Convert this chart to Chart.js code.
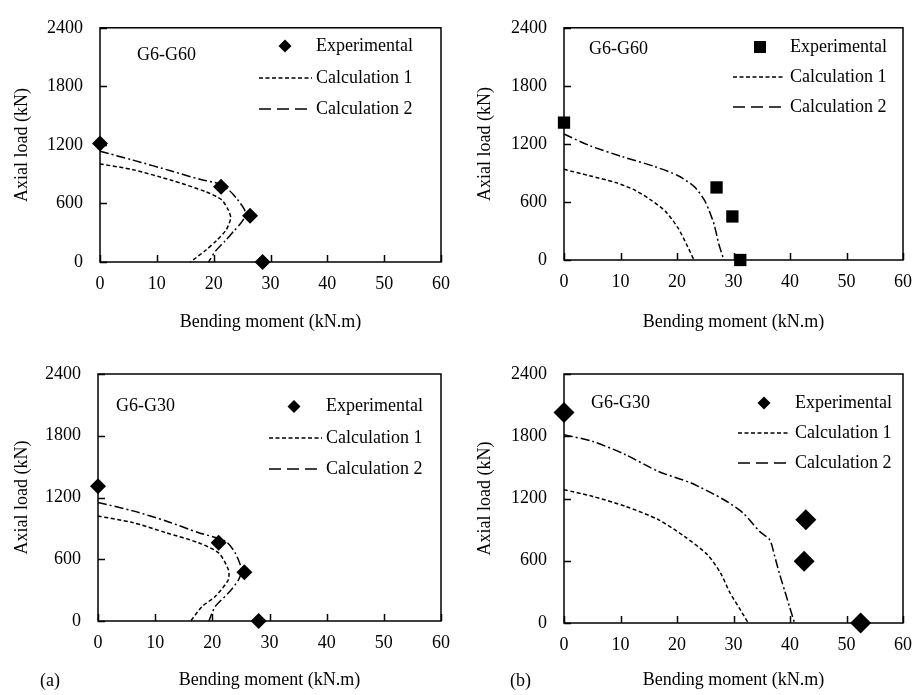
<!DOCTYPE html>
<html><head><meta charset="utf-8">
<script src="https://cdn.jsdelivr.net/npm/chart.js@4.4.1/dist/chart.umd.min.js"></script>
<style>
html,body{margin:0;padding:0;background:#fff;width:923px;height:695px;overflow:hidden}
.p{position:absolute}
canvas{display:block}
</style></head><body>
<div class="p" style="left:0;top:0"><canvas id="c1" width="461" height="340"></canvas></div>
<div class="p" style="left:461px;top:0"><canvas id="c2" width="462" height="340"></canvas></div>
<div class="p" style="left:0;top:340px"><canvas id="c3" width="461" height="355"></canvas></div>
<div class="p" style="left:461px;top:340px"><canvas id="c4" width="462" height="355"></canvas></div>
<script>
// ---------- data ----------
const momentTicks = [0, 10, 20, 30, 40, 50, 60];
const loadTicks = [0, 600, 1200, 1800, 2400];
const seriesNames = ['Experimental', 'Calculation 1', 'Calculation 2'];
const xTitle = 'Bending moment (kN.m)';
const yTitle = 'Axial load (kN)';
const panelTags = ['G6-G60', 'G6-G60', 'G6-G30', 'G6-G30'];
const subTags = ['', '', '(a)', '(b)'];

// top-left  (a) G6-G60
const aG60ExpM = [0, 21.3, 26.4, 28.6];
const aG60ExpP = [1215, 770, 475, 0];
const aG60C1M = [0, 5.8, 12.7, 18.6, 21.4, 22.6, 23.0, 22.2, 20.5, 18.6, 15.9];
const aG60C1P = [1005, 946, 835, 720, 637, 530, 450, 330, 220, 120, 0];
const aG60C2M = [0, 5.8, 12.7, 17.4, 21.0, 22.8, 24.2, 25.4, 25.6, 24.8, 23.6, 22.0, 20.3, 19.1];
const aG60C2P = [1135, 1044, 930, 850, 800, 730, 640, 540, 480, 400, 320, 215, 110, 0];

// top-right (b) G6-G60
const bG60ExpM = [0, 27.0, 29.8, 31.2];
const bG60ExpP = [1420, 750, 450, 0];
const bG60C1M = [0, 4.5, 9.2, 12.6, 15.5, 18.0, 20.2, 21.7, 23.0];
const bG60C1P = [937, 871, 800, 720, 615, 500, 329, 160, 0];
const bG60C2M = [0, 4.5, 10.3, 16.1, 20.2, 23.1, 24.8, 25.7, 26.6, 27.4, 28.3];
const bG60C2P = [1302, 1183, 1068, 965, 871, 756, 624, 510, 362, 165, 0];

// bottom-left (a) G6-G30
const aG30ExpM = [0, 21.1, 25.6, 28.1];
const aG30ExpP = [1310, 760, 473, 0];
const aG30C1M = [0, 6.1, 11.9, 17.6, 21.1, 22.8, 22.8, 20.5, 18.2, 16.2];
const aG30C1P = [1020, 956, 858, 760, 662, 499, 401, 238, 140, 0];
const aG30C2M = [0, 6.1, 11.9, 17.6, 22.3, 24.0, 25.1, 24.6, 22.8, 20.5, 19.4];
const aG30C2P = [1152, 1070, 972, 858, 776, 662, 499, 401, 271, 140, 0];

// bottom-right (b) G6-G30
const bG30ExpM = [0, 42.8, 42.5, 52.5];
const bG30ExpP = [2030, 996, 594, 0];
const bG30C1M = [0, 5.1, 10.9, 16.7, 21.3, 25.4, 27.7, 29.4, 31.2, 32.6];
const bG30C1P = [1285, 1220, 1124, 996, 835, 658, 482, 289, 128, 0];
const bG30C2M = [0, 5.1, 10.9, 16.7, 22.5, 28.3, 31.7, 34.6, 36.4, 37.3, 38.1, 39.0, 39.9, 40.8];
const bG30C2P = [1815, 1750, 1622, 1461, 1349, 1188, 1060, 883, 803, 642, 482, 321, 160, 0];

// ---------- styling / layout ----------
const FONT = "'Liberation Serif', 'Times New Roman', serif";
const FS = 18;
const INK = '#000';
const zip = (xs, ys) => xs.map((v, i) => ({x: v, y: ys[i]}));

const panels = [
  {id: 'c1', w: 461, h: 340, area: {l: 100, r: 445, t: 16, b: 262}, marker: 'rectRot', mr: 8, lr: 6.5,
   lg: {mx: 285, tx: 316, lx0: 259, lx1: 312, rows: [46, 78, 109]}, tag: {x: 137, y: 55}, sub: null,
   xpb: 7.2, ypt: 11.2,
   exp: [aG60ExpM, aG60ExpP], c1: [aG60C1M, aG60C1P], c2: [aG60C2M, aG60C2P]},
  {id: 'c2', w: 462, h: 340, area: {l: 103, r: 448, t: 16, b: 260}, marker: 'rect', mr: 8.7, lr: 8.5,
   lg: {mx: 299, tx: 329, lx0: 272, lx1: 324, rows: [47, 77, 107]}, tag: {x: 128, y: 49}, sub: null,
   xpb: 7.2, ypt: 13.2,
   exp: [bG60ExpM, bG60ExpP], c1: [bG60C1M, bG60C1P], c2: [bG60C2M, bG60C2P]},
  {id: 'c3', w: 461, h: 355, area: {l: 98, r: 445, t: 34, b: 281}, marker: 'rectRot', mr: 8, lr: 6.5,
   lg: {mx: 294, tx: 326, lx0: 269, lx1: 322, rows: [66.5, 98, 129]}, tag: {x: 116, y: 66}, sub: {x: 40, y: 341},
   xpb: 4.2, ypt: 11.2,
   exp: [aG30ExpM, aG30ExpP], c1: [aG30C1M, aG30C1P], c2: [aG30C2M, aG30C2P]},
  {id: 'c4', w: 462, h: 355, area: {l: 103, r: 448, t: 34, b: 283}, marker: 'rectRot', mr: 10.5, lr: 6.5,
   lg: {mx: 303, tx: 334, lx0: 277, lx1: 329, rows: [63, 93, 123]}, tag: {x: 130, y: 63}, sub: {x: 49, y: 341},
   xpb: 4.2, ypt: 13.2,
   exp: [bG30ExpM, bG30ExpP], c1: [bG30C1M, bG30C1P], c2: [bG30C2M, bG30C2P]}
];

const CALC1_DASH = [4, 2.5];
const CALC2_DASH = [9, 3, 2, 3];
const LEG2_DASH = [12, 6];

const framePlugin = {
  id: 'frame',
  beforeDatasetsDraw(chart) {
    const {ctx, chartArea: a, scales: {x, y}} = chart;
    ctx.save();
    ctx.strokeStyle = INK; ctx.lineWidth = 1.5; ctx.setLineDash([]);
    ctx.strokeRect(a.left, a.top, a.right - a.left, a.bottom - a.top);
    ctx.beginPath();
    x.ticks.forEach(t => { const px = Math.round(x.getPixelForValue(t.value)) + 0.5; ctx.moveTo(px, a.bottom); ctx.lineTo(px, a.bottom - 7); });
    y.ticks.forEach(t => { const py = Math.round(y.getPixelForValue(t.value)) + 0.5; ctx.moveTo(a.left, py); ctx.lineTo(a.left + 7, py); });
    ctx.stroke();
    ctx.restore();
  },
  afterDraw(chart) {
    const P = chart.config.options.plugins.frame.panel;
    const idx = chart.config.options.plugins.frame.idx;
    const {ctx} = chart;
    ctx.save();
    ctx.fillStyle = INK; ctx.strokeStyle = INK;
    ctx.font = FS + 'px ' + FONT;
    ctx.textBaseline = 'middle'; ctx.textAlign = 'left';
    // panel tag
    ctx.fillText(panelTags[idx], P.tag.x, P.tag.y);
    if (P.sub) ctx.fillText(subTags[idx], P.sub.x, P.sub.y);
    // legend
    const L = P.lg;
    L.rows.forEach((ry, i) => ctx.fillText(seriesNames[i], L.tx, ry));
    // marker
    ctx.beginPath();
    const r = P.lr;
    if (P.marker === 'rect') {
      const s = r * Math.SQRT1_2;
      ctx.rect(L.mx - s, L.rows[0] - s, 2 * s, 2 * s);
    } else {
      ctx.moveTo(L.mx, L.rows[0] - r); ctx.lineTo(L.mx + r, L.rows[0]);
      ctx.lineTo(L.mx, L.rows[0] + r); ctx.lineTo(L.mx - r, L.rows[0]); ctx.closePath();
    }
    ctx.fill();
    // lines
    ctx.lineWidth = 1.5;
    ctx.setLineDash(CALC1_DASH);
    ctx.beginPath(); ctx.moveTo(L.lx0, L.rows[1]); ctx.lineTo(L.lx1, L.rows[1]); ctx.stroke();
    ctx.setLineDash(LEG2_DASH);
    ctx.beginPath(); ctx.moveTo(L.lx0, L.rows[2]); ctx.lineTo(L.lx1, L.rows[2]); ctx.stroke();
    ctx.restore();
  }
};

panels.forEach((P, idx) => {
  const tickFont = {family: FONT, size: FS};
  new Chart(document.getElementById(P.id), {
    type: 'scatter',
    data: {
      datasets: [
        {label: seriesNames[1], data: zip(P.c1[0], P.c1[1]), showLine: true, borderColor: INK, borderWidth: 1.5,
         borderDash: CALC1_DASH, pointRadius: 0, tension: 0.25, fill: false, clip: false, order: 2},
        {label: seriesNames[2], data: zip(P.c2[0], P.c2[1]), showLine: true, borderColor: INK, borderWidth: 1.5,
         borderDash: CALC2_DASH, pointRadius: 0, tension: 0.25, fill: false, clip: false, order: 2},
        {label: seriesNames[0], data: zip(P.exp[0], P.exp[1]), showLine: false, pointStyle: P.marker,
         pointRadius: P.mr, backgroundColor: INK, borderColor: INK, borderWidth: 0, clip: false, order: 1}
      ]
    },
    options: {
      responsive: false, animation: false, devicePixelRatio: 1,
      events: [],
      layout: {padding: {left: 0, top: P.area.t, right: P.w - P.area.r, bottom: 0}},
      plugins: {legend: {display: false}, tooltip: {enabled: false}, frame: {panel: P, idx: idx}},
      scales: {
        x: {
          type: 'linear', min: 0, max: 60,
          afterBuildTicks: s => { s.ticks = momentTicks.map(v => ({value: v})); },
          afterFit: s => { s.height = P.h - P.area.b; },
          grid: {display: false, drawTicks: false}, border: {display: false},
          ticks: {padding: 11, color: INK, font: tickFont, maxRotation: 0, autoSkip: false, callback: v => String(v)},
          title: {display: true, text: xTitle, color: INK, font: tickFont, padding: {top: 0, bottom: P.xpb}}
        },
        y: {
          type: 'linear', min: 0, max: 2400,
          afterBuildTicks: s => { s.ticks = loadTicks.map(v => ({value: v})); },
          afterFit: s => { s.width = P.area.l; },
          grid: {display: false, drawTicks: false}, border: {display: false},
          ticks: {padding: 17, color: INK, font: tickFont, autoSkip: false, callback: v => String(v)},
          title: {display: true, text: yTitle, color: INK, font: tickFont, padding: {top: P.ypt, bottom: 0}}
        }
      }
    },
    plugins: [framePlugin]
  });
});
</script>
</body></html>
